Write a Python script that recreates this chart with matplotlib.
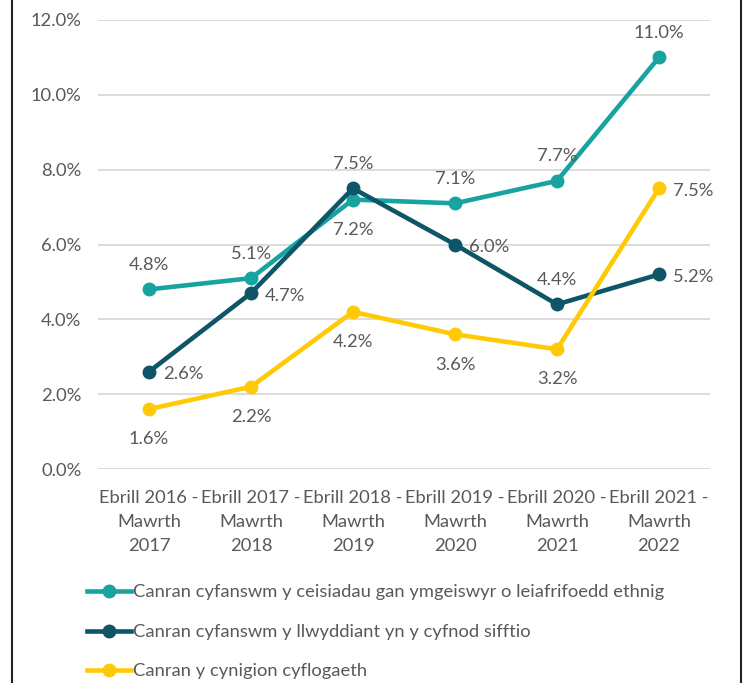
import matplotlib.pyplot as plt
from matplotlib.lines import Line2D

categories = ["Ebrill 2016 -\nMawrth\n2017", "Ebrill 2017 -\nMawrth\n2018",
              "Ebrill 2018 -\nMawrth\n2019", "Ebrill 2019 -\nMawrth\n2020",
              "Ebrill 2020 -\nMawrth\n2021", "Ebrill 2021 -\nMawrth\n2022"]
ceisiadau = [4.8, 5.1, 7.2, 7.1, 7.7, 11.0]
llwyddiant = [2.6, 4.7, 7.5, 6.0, 4.4, 5.2]
cynigion = [1.6, 2.2, 4.2, 3.6, 3.2, 7.5]
labels = ["Canran cyfanswm y ceisiadau gan ymgeiswyr o leiafrifoedd ethnig",
          "Canran cyfanswm y llwyddiant yn y cyfnod sifftio",
          "Canran y cynigion cyflogaeth"]
colors = ["#17A3A0", "#0D5567", "#FFCA05"]

# where each data label sits relative to its point
pos_ceis = ["above", "above", "below", "above", "above", "above"]
pos_llwy = ["right", "right", "above", "right", "above", "right"]
pos_cyn = ["below", "below", "below", "below", "below", "right"]

plt.rcParams['font.family'] = ['Lato', 'DejaVu Sans']
fs = 13.2
tc = "#595959"

fig = plt.figure(figsize=(7.44, 6.83), dpi=100)
ax = fig.add_axes([98/744, 1-469/683, 612/744, 449/683])

x = list(range(len(categories)))
offs = {"above": (0, 12, "center", "bottom"), "below": (0, -16, "center", "top"),
        "right": (10, -2, "left", "center")}
for vals, col, poss in [(ceisiadau, colors[0], pos_ceis), (llwyddiant, colors[1], pos_llwy),
                        (cynigion, colors[2], pos_cyn)]:
    ax.plot(x, vals, color=col, lw=3.3, marker="o", markersize=9, solid_capstyle="round", zorder=3)
    for i, v in enumerate(vals):
        dx, dy, ha, va = offs[poss[i]]
        ax.annotate(f"{v:.1f}%", (i, v), xytext=(dx, dy), textcoords="offset points",
                    ha=ha, va=va, fontsize=fs, color=tc)

ax.set_xlim(-0.5, len(categories) - 0.5)
ax.set_ylim(0, 12)
ax.set_yticks([0, 2, 4, 6, 8, 10, 12])
ax.set_yticklabels([f"{t:.1f}%" for t in [0, 2, 4, 6, 8, 10, 12]], fontsize=fs, color=tc)
ax.set_xticks(x)
ax.set_xticklabels(categories, fontsize=fs, color=tc, linespacing=1.62)
ax.tick_params(length=0, pad=12)
ax.tick_params(axis="x", pad=15)
ax.grid(axis="y", color="#D9D9D9", lw=1.3)
ax.set_axisbelow(True)
for s in ax.spines.values():
    s.set_visible(False)

handles = [Line2D([], [], color=c, lw=3.3, marker="o", markersize=9) for c in colors]
fig.legend(handles, labels, loc="upper left", bbox_to_anchor=(70/744, 1-568/683),
           frameon=False, fontsize=fs, labelcolor=tc, handlelength=2.45, handletextpad=0.1,
           labelspacing=1.28)

# frame edges
fig.add_artist(Line2D([12/744, 12/744], [0, 1], color="#222222", lw=1.5))
fig.add_artist(Line2D([741/744, 741/744], [0, 1], color="#222222", lw=1.5))

fig.savefig("out.png", dpi=100)
